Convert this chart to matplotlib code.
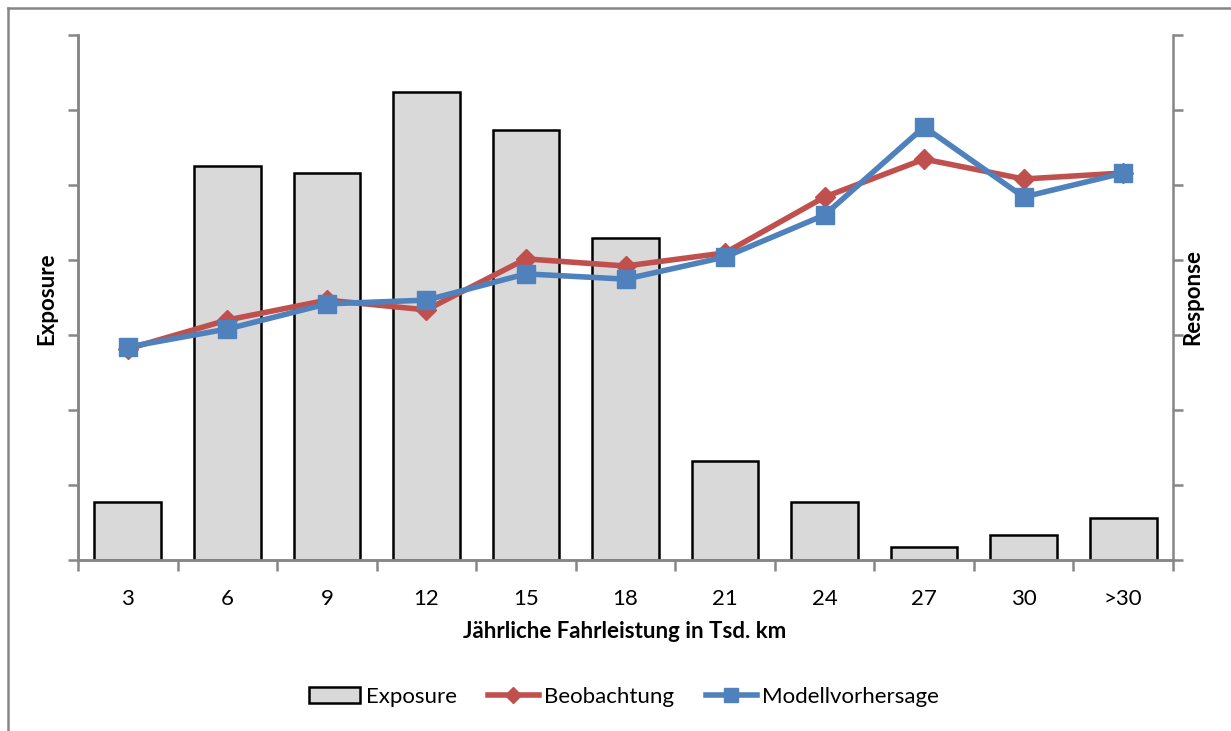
import numpy as np
import matplotlib.pyplot as plt
from matplotlib.lines import Line2D

plt.rcParams['font.family'] = ['Lato', 'DejaVu Sans']

# mileage classes (thousand km per year)
categories = ['3', '6', '9', '12', '15', '18', '21', '24', '27', '30', '>30']
# exposure share per class (%)
exposure = [3.9, 26.3, 25.8, 31.2, 28.7, 21.5, 6.6, 3.9, 0.9, 1.7, 2.8]
# observed vs. predicted response
beobachtung = [0.0563, 0.0640, 0.0693, 0.0667, 0.0803, 0.0784, 0.0819, 0.0968, 0.1069, 0.1016, 0.1032]
modell = [0.0568, 0.0616, 0.0683, 0.0693, 0.0763, 0.0749, 0.0808, 0.0920, 0.1155, 0.0968, 0.1032]

axis_grey = '#868686'
red = '#C0504D'
blue = '#4F81BD'
fs = 16

W, H = 1231, 731
fig = plt.figure(figsize=(W / 100, H / 100), dpi=100)
ax = fig.add_axes([78 / W, 1 - 560 / H, (1173 - 78) / W, (560 - 35) / H])
ax2 = ax.twinx()

x = np.arange(len(categories))
ax.bar(x, exposure, width=0.67, color='#D9D9D9', edgecolor='black', linewidth=1.8,
       label='Exposure', zorder=2)
ax2.plot(x, beobachtung, color=red, lw=4, marker='D', markersize=10,
         label='Beobachtung', zorder=3)
ax2.plot(x, modell, color=blue, lw=4, marker='s', markersize=13,
         label='Modellvorhersage', zorder=4)

ax.set_xlim(-0.5, len(categories) - 0.5)
ax.set_ylim(0, 35)
ax.set_yticks(np.arange(0, 36, 5))
ax2.set_ylim(0, 0.14)
ax2.set_yticks(np.arange(0, 0.141, 0.02))
ax.set_yticklabels([])
ax2.set_yticklabels([])

# category labels centred, tick marks at class boundaries
ax.set_xticks(x)
ax.set_xticklabels(categories, fontsize=fs)
ax.set_xticks(np.arange(-0.5, len(categories), 1), minor=True)
ax.tick_params(axis='x', which='major', length=0, pad=21)
ax.tick_params(axis='x', which='minor', length=8, width=1.8, color=axis_grey, direction='out')
ax.tick_params(axis='y', length=7, width=1.8, color=axis_grey, direction='out')
ax2.tick_params(axis='y', length=7, width=1.8, color=axis_grey, direction='out')

for a in (ax, ax2):
    a.spines['top'].set_visible(False)
    for s in ('left', 'right', 'bottom'):
        a.spines[s].set_color(axis_grey)
        a.spines[s].set_linewidth(1.8)
ax.spines['right'].set_visible(False)

fig.text(47 / W, 1 - 299 / H, 'Exposure', rotation=90, ha='center', va='center',
         fontsize=fs, fontweight='bold')
fig.text(1193 / W, 1 - 297 / H, 'Response', rotation=90, ha='center', va='center',
         fontsize=fs, fontweight='bold')
fig.text(625 / W, 1 - 631 / H, 'Jährliche Fahrleistung in Tsd. km', ha='center', va='center',
         fontsize=fs, fontweight='bold')

handles = [ax.containers[0]] + ax2.get_lines()
fig.legend(handles, ['Exposure', 'Beobachtung', 'Modellvorhersage'], loc='center',
           bbox_to_anchor=(624 / W, 1 - 697 / H), ncol=3, frameon=False, fontsize=fs,
           handlelength=2.3, handletextpad=0.25, columnspacing=1.4, markerscale=0.8)

# chart frame
fig.add_artist(Line2D([8 / W, 8 / W], [0, 1 - 8 / H], color=axis_grey, lw=1.8))
fig.add_artist(Line2D([8 / W, 1], [1 - 8 / H, 1 - 8 / H], color=axis_grey, lw=1.8))

fig.savefig('out.png', dpi=100)
